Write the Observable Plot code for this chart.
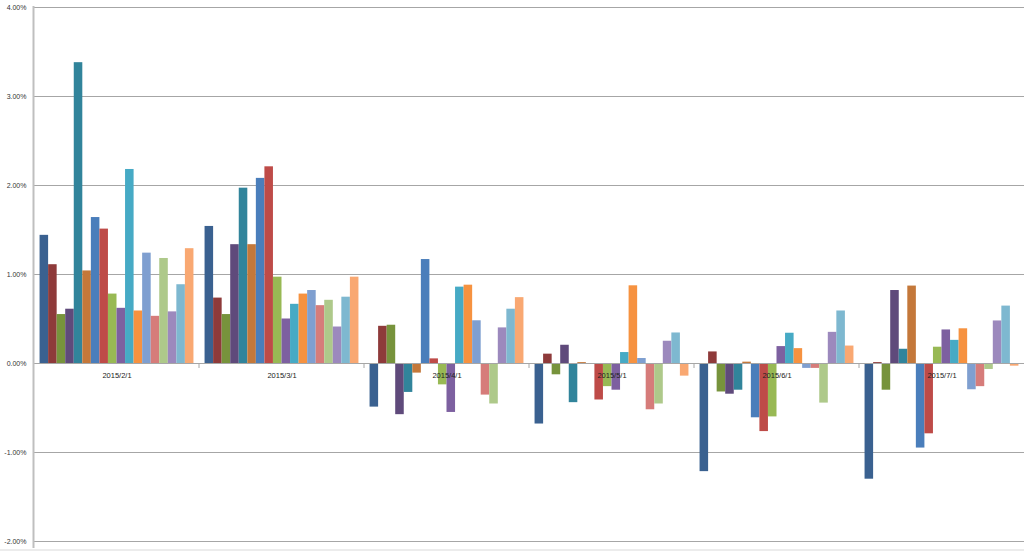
<!DOCTYPE html>
<html><head><meta charset="utf-8">
<script src="https://cdn.jsdelivr.net/npm/d3@7"></script>
<script src="https://cdn.jsdelivr.net/npm/@observablehq/plot@0.6"></script>
<style>body{margin:0;background:#fff;overflow:hidden}</style>
</head><body><div id="chart"></div>
<script>
const dates = ["2015/2/1","2015/3/1","2015/4/1","2015/5/1","2015/6/1","2015/7/1"];
const seriesNames = ["S1","S2","S3","S4","S5","S6","S7","S8","S9","S10","S11","S12","S13","S14","S15","S16","S17","S18"];
const colors = ["#3a6190","#8e3a3a","#77933c","#5f4a7b","#31849b","#c4783a",
                "#4a7ebb","#be4b48","#98b954","#7d60a0","#46aac5","#f69240",
                "#7f9fd0","#d67c7a","#aec98a","#9c89bd","#7eb8d0","#f9a872"];
// values in percent
const feb = [1.44,1.11,0.55,0.61,3.38,1.04,1.64,1.51,0.78,0.62,2.18,0.59,1.24,0.53,1.18,0.58,0.885,1.29];
const mar = [1.54,0.735,0.55,1.335,1.97,1.335,2.08,2.21,0.97,0.50,0.665,0.78,0.82,0.65,0.71,0.41,0.745,0.97];
const apr = [-0.49,0.418,0.43,-0.575,-0.325,-0.108,1.168,0.052,-0.24,-0.55,0.858,0.88,0.48,-0.355,-0.455,0.40,0.61,0.74];
const may = [-0.68,0.105,-0.127,0.205,-0.44,0.01,0,-0.41,-0.26,-0.30,0.123,0.873,0.056,-0.52,-0.455,0.25,0.343,-0.142];
const jun = [-1.215,0.13,-0.32,-0.345,-0.30,0.015,-0.61,-0.765,-0.60,0.19,0.34,0.167,-0.055,-0.055,-0.445,0.35,0.59,0.196];
const jul = [-1.30,0.01,-0.30,0.82,0.16,0.87,-0.95,-0.79,0.183,0.377,0.26,0.39,-0.295,-0.26,-0.067,0.478,0.645,-0.03];
const yTicks = [-2,-1,0,1,2,3,4];

const groups = [feb, mar, apr, may, jun, jul];
const rows = [];
groups.forEach((vals, gi) => vals.forEach((v, si) => rows.push({date: dates[gi], series: seriesNames[si], value: v})));

const plot = Plot.plot({
  width: 1024, height: 551,
  marginLeft: 34, marginRight: 0, marginTop: 7, marginBottom: 10,
  style: {fontFamily: "'Liberation Sans', Arial, sans-serif", fontSize: "7px", background: "#fff"},
  fx: {domain: dates, padding: 0, round: false, axis: null},
  x: {domain: seriesNames, paddingInner: 0, paddingOuter: 0.65, round: false, axis: null},
  y: {domain: [-2, 4], label: null},
  color: {domain: seriesNames, range: colors},
  marks: [
    Plot.gridY(yTicks.filter(t => t !== 0), {stroke: "#a6a6a6", strokeOpacity: 1, strokeWidth: 1}),
    Plot.axisY(yTicks, {tickSize: 0, tickPadding: 8, tickFormat: d => d.toFixed(2) + "%", fill: "#333", fontSize: 7}),
    Plot.barY(rows, {fx: "date", x: "series", y: "value", fill: "series"}),
    Plot.ruleY([0], {stroke: "#a6a6a6", strokeWidth: 1}),
    Plot.text(dates, {fx: d => d, y: () => 0, text: d => d, dy: 12, fill: "#222", fontSize: 7.5})
  ]
});

const fx = plot.scale("fx");
const y = plot.scale("y");
const svg = d3.select(plot);
const g = svg.append("g");
const y0 = y.apply(0);
dates.forEach((d, i) => {
  const xs = fx.apply(d);
  if (i > 0) g.append("line").attr("x1", xs).attr("x2", xs).attr("y1", y0).attr("y2", y0 + 5).attr("stroke", "#a6a6a6");
});
g.append("line").attr("x1", 33.5).attr("x2", 33.5).attr("y1", y.apply(4) - 1).attr("y2", y.apply(-2) + 7)
  .attr("stroke", "#bfbfbf").attr("stroke-width", 2);
g.append("line").attr("x1", 0).attr("x2", 1024).attr("y1", 550).attr("y2", 550).attr("stroke", "#d9d9d9");
document.getElementById("chart").appendChild(plot);
</script>
</body></html>
